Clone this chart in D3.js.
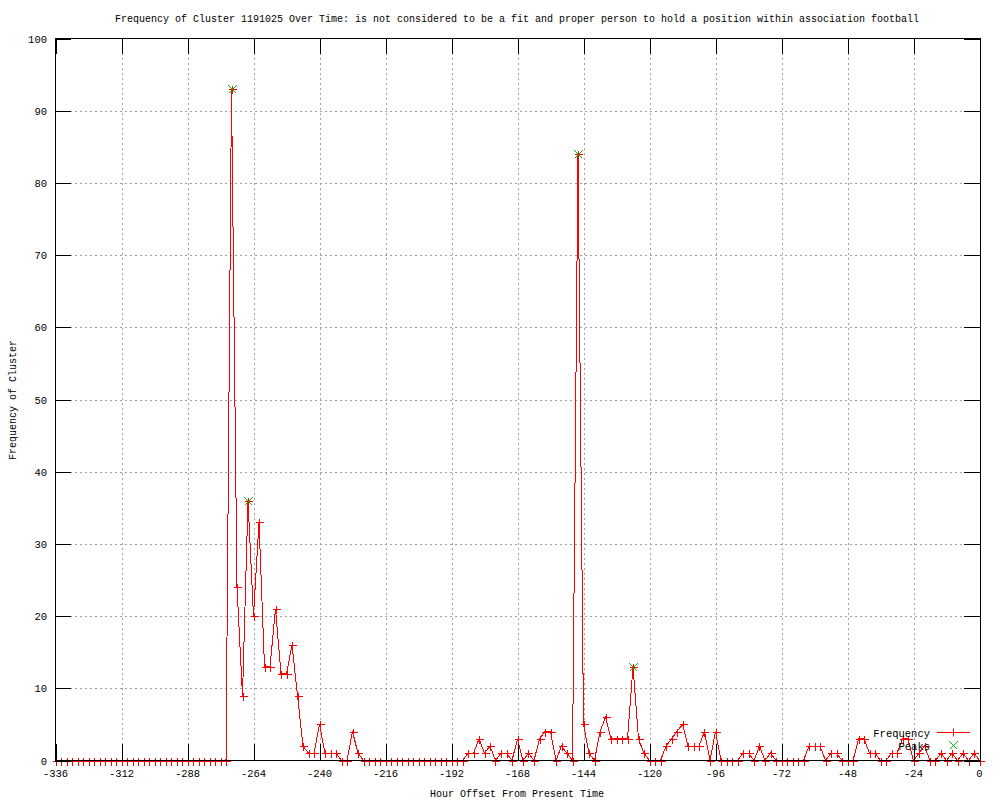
<!DOCTYPE html>
<html><head><meta charset="utf-8">
<script src="https://cdn.jsdelivr.net/npm/d3@7"></script>
<style>
body{margin:0;background:#fff;}
text{font-family:"Liberation Mono","DejaVu Sans Mono",monospace;fill:#000;}
</style></head>
<body>
<svg id="chart" width="1000" height="800"></svg>
<script>
// ---- data ----
const titleText = "Frequency of Cluster 1191025 Over Time: is not considered to be a fit and proper person to hold a position within association football";
const xLabel = "Hour Offset From Present Time";
const yLabel = "Frequency of Cluster";
const hours = d3.range(-336, 1, 2); // hourly offsets, every 2 hours
const frequency = [
  0,0,0,0,0,0,0,0,0,0,0,0,0,0,0,0,0,0,0,0,0,0,0,0,0,0,0,0,0,0,0,0,
  93,24,9,36,20,33,13,13,21,12,12,16,9,2,1,1,5,1,1,1,0,0,4,1,
  0,0,0,0,0,0,0,0,0,0,0,0,0,0,0,0,0,0,0,
  1,1,3,1,2,0,1,1,0,3,0,1,0,3,4,4,0,2,1,0,
  84,5,1,0,4,6,3,3,3,3,13,3,1,0,0,0,2,3,4,5,2,2,2,4,0,4,
  0,0,0,0,1,1,0,2,0,1,0,0,0,0,0,0,
  2,2,2,0,1,1,0,0,0,3,3,1,1,0,0,1,1,3,3,0,1,2,0,0,1,0,1,0,1,0,1,0
];
const peakHours = [-272, -266, -146, -126];
const peakValues = [93, 36, 84, 13];
const xTicks = [-336,-312,-288,-264,-240,-216,-192,-168,-144,-120,-96,-72,-48,-24,0];
const yTicks = [0,10,20,30,40,50,60,70,80,90,100];
const seriesNames = ["Frequency", "Peaks"];

// ---- layout ----
const L = 55, R = 980, T = 38, B = 760;
const svg = d3.select("#chart");
const x = d3.scaleLinear().domain([-336, 0]).range([L + 0.5, R - 0.5]);
const y = d3.scaleLinear().domain([0, 100]).range([B + 0.5, T + 0.5]);
const red = "#ff0000", green = "#00c000";
const FS = 10.5;

// grid
const grid = svg.append("g").attr("shape-rendering", "crispEdges")
  .attr("stroke", "#a0a0a0").attr("stroke-dasharray", "2,3");
grid.selectAll("line.gx").data(xTicks.slice(1, -1)).join("line")
  .attr("x1", d => Math.round(x(d)) + 0.5).attr("x2", d => Math.round(x(d)) + 0.5)
  .attr("y1", T).attr("y2", B);
grid.selectAll("line.gy").data(yTicks.slice(1, -1)).join("line")
  .attr("x1", L).attr("x2", R)
  .attr("y1", d => Math.round(y(d)) + 0.5).attr("y2", d => Math.round(y(d)) + 0.5);

// data line
const pts = hours.map((h, i) => [h, frequency[i]]);
svg.append("path").datum(pts)
  .attr("d", d3.line().x(d => x(d[0])).y(d => y(d[1])))
  .attr("fill", "none").attr("stroke", red).attr("stroke-width", 1)
  .attr("shape-rendering", "crispEdges");

// markers
const plus = (g, cx, cy, col) => {
  g.append("line").attr("x1", cx - 4).attr("x2", cx + 4).attr("y1", cy).attr("y2", cy).attr("stroke", col);
  g.append("line").attr("x1", cx).attr("x2", cx).attr("y1", cy - 4).attr("y2", cy + 4).attr("stroke", col);
};
const cross = (g, cx, cy, col) => {
  g.append("line").attr("x1", cx - 4).attr("x2", cx + 4).attr("y1", cy - 4).attr("y2", cy + 4).attr("stroke", col);
  g.append("line").attr("x1", cx - 4).attr("x2", cx + 4).attr("y1", cy + 4).attr("y2", cy - 4).attr("stroke", col);
};
const mk = svg.append("g").attr("shape-rendering", "crispEdges");
pts.forEach(d => plus(mk, Math.round(x(d[0])) + 0.5, Math.round(y(d[1])) + 0.5, red));
const pk = svg.append("g").attr("shape-rendering", "crispEdges");
peakHours.forEach((h, i) => cross(pk, Math.round(x(h)) + 0.5, Math.round(y(peakValues[i])) + 0.5, green));

// border + ticks (front)
const ax = svg.append("g").attr("shape-rendering", "crispEdges").attr("stroke", "#000");
ax.append("rect").attr("x", L + 0.5).attr("y", T + 0.5).attr("width", R - L).attr("height", B - T).attr("fill", "none");
const TL = 16;
xTicks.forEach(t => {
  const px = Math.round(x(t)) + 0.5;
  ax.append("line").attr("x1", px).attr("x2", px).attr("y1", B).attr("y2", B - TL);
  ax.append("line").attr("x1", px).attr("x2", px).attr("y1", T).attr("y2", T + TL);
});
yTicks.forEach(t => {
  const py = Math.round(y(t)) + 0.5;
  ax.append("line").attr("x1", L).attr("x2", L + TL).attr("y1", py).attr("y2", py);
  ax.append("line").attr("x1", R).attr("x2", R - TL).attr("y1", py).attr("y2", py);
});

// tick labels
svg.append("g").selectAll("text").data(xTicks).join("text")
  .attr("font-size", FS)
  .attr("x", d => x(d)).attr("y", 777).attr("text-anchor", "middle").text(d => d);
svg.append("g").selectAll("text").data(yTicks).join("text")
  .attr("font-size", FS)
  .attr("x", 47).attr("y", d => y(d) + 4).attr("text-anchor", "end").text(d => d);

// titles
svg.append("text").attr("x", 517).attr("y", 22).attr("text-anchor", "middle")
  .attr("font-size", 10).text(titleText);
svg.append("text").attr("font-size", 10).attr("x", 517).attr("y", 797).attr("text-anchor", "middle").text(xLabel);
svg.append("text").attr("font-size", 10).attr("transform", "translate(16,400) rotate(-90)").attr("text-anchor", "middle").text(yLabel);

// legend
const lg = svg.append("g");
lg.append("text").attr("font-size", FS).attr("x", 930).attr("y", 737).attr("text-anchor", "end").text(seriesNames[0]);
lg.append("line").attr("x1", 937).attr("x2", 970).attr("y1", 732.5).attr("y2", 732.5).attr("stroke", red).attr("shape-rendering", "crispEdges");
plus(lg, 953.5, 732.5, red);
lg.append("text").attr("font-size", FS).attr("x", 930).attr("y", 750).attr("text-anchor", "end").text(seriesNames[1]);
cross(lg.append("g").attr("shape-rendering", "crispEdges"), 953.5, 745.5, green);
</script>
</body></html>
